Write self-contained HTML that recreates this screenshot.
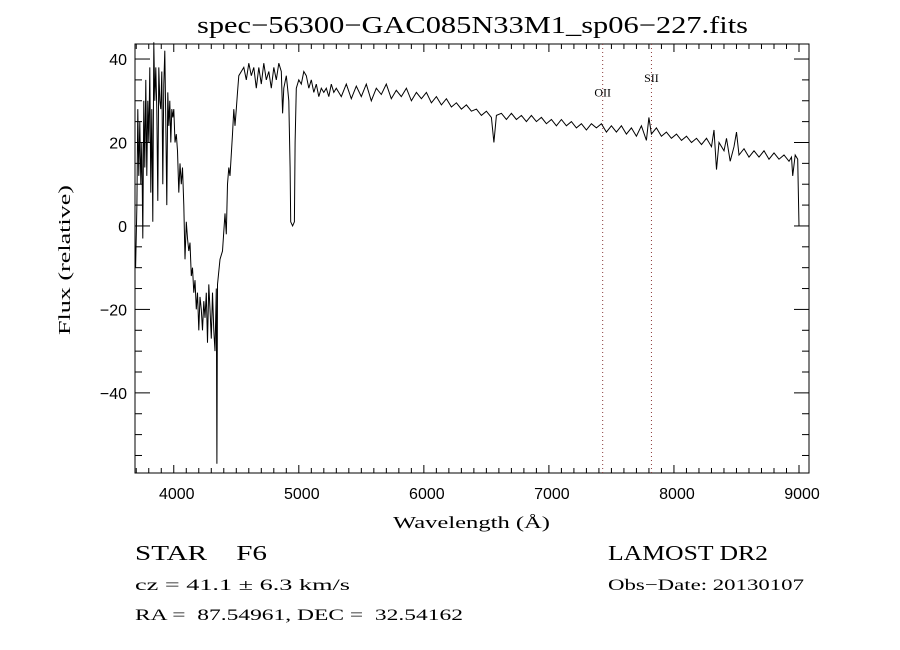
<!DOCTYPE html>
<html><head><meta charset="utf-8"><style>
body{margin:0;background:#fff;}
svg{display:block;font-family:"Liberation Serif",serif;}
</style></head><body>
<svg id="chart" width="900" height="650" viewBox="0 0 900 650" xmlns="http://www.w3.org/2000/svg">
<rect width="900" height="650" fill="#fff"/>
<text x="197" y="33" font-size="24" textLength="551" lengthAdjust="spacingAndGlyphs">spec−56300−GAC085N33M1_sp06−227.fits</text>
<text x="393" y="528" font-size="17" textLength="157" lengthAdjust="spacingAndGlyphs">Wavelength (Å)</text>
<text transform="translate(70,335) rotate(-90)" font-size="17" textLength="150" lengthAdjust="spacingAndGlyphs">Flux (relative)</text>
<text x="135" y="560" font-size="21" xml:space="preserve" textLength="132" lengthAdjust="spacingAndGlyphs">STAR    F6</text>
<text x="135" y="590" font-size="16" textLength="215" lengthAdjust="spacingAndGlyphs">cz = 41.1 ± 6.3 km/s</text>
<text x="135" y="620" font-size="16" xml:space="preserve" textLength="328" lengthAdjust="spacingAndGlyphs">RA =  87.54961, DEC =  32.54162</text>
<text x="608" y="560" font-size="21" textLength="160" lengthAdjust="spacingAndGlyphs">LAMOST DR2</text>
<text x="608" y="590" font-size="16" textLength="196" lengthAdjust="spacingAndGlyphs">Obs−Date: 20130107</text>
<g id="axes"></g>
<g id="plot"></g>
</svg>
<script>
const wave=[3695,3705,3712,3720,3728,3736,3744,3752,3760,3768,3776,3784,3792,3800,3808,3816,3824,3832,3840,3848,3856,3864,3872,3880,3888,3896,3904,3912,3920,3928,3936,3944,3952,3960,3968,3976,3984,3992,4000,4010,4020,4030,4040,4050,4060,4070,4080,4090,4100,4110,4120,4130,4140,4150,4160,4170,4180,4190,4200,4210,4220,4230,4240,4250,4260,4270,4280,4290,4300,4310,4320,4330,4340,4345,4350,4370,4390,4410,4420,4430,4440,4450,4470,4480,4490,4500,4510,4520,4540,4560,4580,4600,4620,4640,4660,4680,4700,4720,4740,4760,4780,4800,4820,4840,4860,4870,4880,4900,4910,4920,4930,4935,4950,4965,4970,4980,5000,5020,5040,5060,5080,5100,5120,5140,5160,5180,5200,5220,5240,5260,5280,
5300,5340,5380,5420,5460,5500,5540,5580,5620,5660,5700,5740,5780,5820,5860,5900,5940,5980,6020,6060,6100,6140,6180,6220,6260,6300,6340,6380,6420,6460,6500,6540,6560,6580,6620,6660,6700,6740,6780,6820,6860,6900,6940,6980,7020,7060,7100,7140,7180,7220,7260,7300,7340,7380,7420,7460,7500,7540,7580,7620,7660,7700,7740,7780,7800,7820,7860,7900,7940,7980,8020,8060,8100,8140,8180,8220,8260,8300,8320,8340,8360,8400,8420,8450,8480,8500,8520,8560,8600,8640,8680,8720,8760,8800,8840,8880,8920,8940,8950,8970,8990,9000];
const flux=[-10,5,28,12,25,10,20,-3,30,14,35,12,30,20,38,8,28,1,44,30,38,28,6,38,30,28,37,10,34,42,25,5,32,24,30,20,28,26,28,20,22,18,8,15,10,14,5,-8,1,-3,-6,-4,-12,-10,-16,-13,-20,-16,-25,-17,-20,-25,-18,-22,-16,-28,-14,-20,-27,-16,-25,-30,-15,-57,-14,-8,-6,3,-2,10,14,12,22,28,24,28,32,36,37,38,35,39,36,38,33,38,34,39,35,37,33,38,35,39,37,27,33,36,33,30,14,1,0,1,20,33,35,34,37,36,33,35,32,34,31,33,32,33,31,34,32,
33,31,34,30.5,33.5,31,34,30,33,31.5,34,30.5,32.5,31,33,30,32,30.5,32,29.5,31,29,30.5,28.5,29.5,28,29,27.5,28,26.5,27.5,26,20,26.5,27,25.5,27,25.5,26.5,25,26.5,25,26,24.5,25.5,24,25.5,24,25,23.5,24.5,23,24.5,23.5,24.5,22.5,24,22.5,24,22,23.5,21.5,24,20.5,26,22,23.5,21.5,22.5,21,22,20.5,21.5,20,21,19.5,21,19,23,13.5,20,18,21,15.5,19,22.5,17,18.5,16.5,18,16.5,18,16,17.5,16,17,15.5,16.5,12,17,16,0];
const xMin=3690,xMax=9080,yMin=-59.2,yMax=43.6,L=135,R=809,T=44,B=473;
const xs=w=>L+(w-xMin)/(xMax-xMin)*(R-L);
const ys=f=>B-(f-yMin)/(yMax-yMin)*(B-T);
const NS="http://www.w3.org/2000/svg";
const axes=document.getElementById('axes'),plot=document.getElementById('plot');
function mk(tag,attrs,parent){const e=document.createElementNS(NS,tag);for(const k in attrs)e.setAttribute(k,attrs[k]);parent.appendChild(e);return e;}
const frame=mk('rect',{x:L,y:T,width:R-L,height:B-T,fill:'none',stroke:'#000','stroke-width':1},axes);


const xTickLabels=["4000","5000","6000","7000","8000","9000"];
for(let w=3700;w<=9000;w+=100){const x=xs(w),maj=w%1000===0,len=maj?8:5;
 const t1=mk('line',{x1:x,x2:x,y1:B,y2:B-len,stroke:'#000'},axes);
 
 
 const t2=mk('line',{x1:x,x2:x,y1:T,y2:T+len,stroke:'#000'},axes);
 
 }
xTickLabels.forEach(s=>{const t=mk('text',{x:xs(+s)+3,y:B+26,'font-size':16,'text-anchor':'middle','font-family':'Liberation Sans, sans-serif'},axes);t.textContent=s;
 
 });
const yTickLabels=["40","20","0","−20","−40"],yTickVals=[40,20,0,-20,-40];
for(let v=-55;v<=40;v+=5){const y=ys(v),maj=v%20===0,len=maj?15:7;
 const t1=mk('line',{x1:L,x2:L+len,y1:y,y2:y,stroke:'#000'},axes);
 
 
 const t2=mk('line',{x1:R,x2:R-len,y1:y,y2:y,stroke:'#000'},axes);
 
 }
yTickVals.forEach((v,i)=>{const t=mk('text',{x:L-8,y:ys(v)+6,'font-size':16,'text-anchor':'end','font-family':'Liberation Sans, sans-serif'},axes);t.textContent=yTickLabels[i];
 
 });
const lineNames=["OII","SII"],lineWaves=[7430,7820],lineLabelFlux=[32,35.5];
lineNames.forEach((n,i)=>{const x=xs(lineWaves[i]);
 const l=mk('line',{x1:x,x2:x,y1:T,y2:B,stroke:'#8b3a3a','stroke-dasharray':'1,3'},plot);
 
 
 const t=mk('text',{x:x,y:ys(lineLabelFlux[i])+4,'font-size':12,'text-anchor':'middle'},plot);t.textContent=n;
 
 });
const path=mk('polyline',{points:wave.map((w,i)=>xs(w).toFixed(1)+','+ys(flux[i]).toFixed(1)).join(' '),fill:'none',stroke:'#000','stroke-width':1},plot);


</script>
</body></html>
